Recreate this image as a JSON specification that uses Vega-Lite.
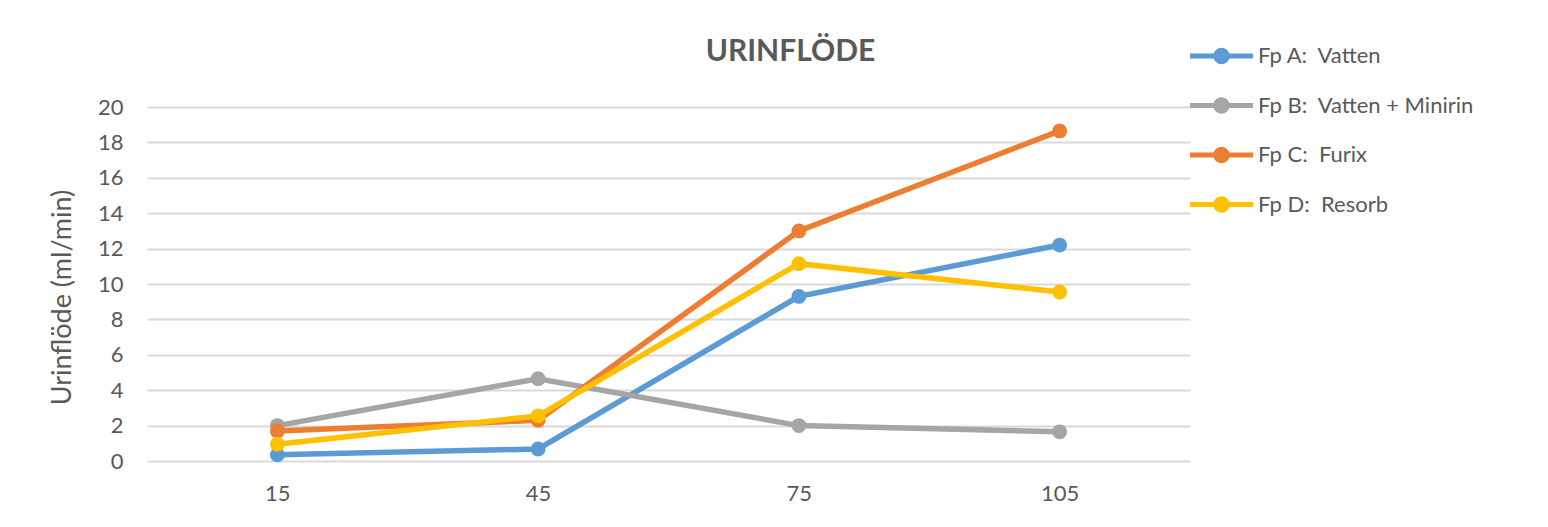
{
  "$schema": "https://vega.github.io/schema/vega-lite/v6.json",
  "autosize": {"type": "none"},
  "padding": {"left": 147, "top": 107, "right": 358, "bottom": 66},
  "width": 1043,
  "height": 354,
  "background": "white",
  "title": {
    "text": "URINFLÖDE",
    "font": "Lato",
    "fontSize": 30,
    "fontWeight": "bold",
    "color": "#595959",
    "anchor": "middle",
    "baseline": "alphabetic",
    "offset": 47,
    "dx": 122,
    "dy": 97
  },
  "data": {
    "values": [
      {"serie": "Fp A:\u00a0 Vatten", "t": 15, "v": 0.35},
      {"serie": "Fp A:\u00a0 Vatten", "t": 45, "v": 0.68},
      {"serie": "Fp A:\u00a0 Vatten", "t": 75, "v": 9.3},
      {"serie": "Fp A:\u00a0 Vatten", "t": 105, "v": 12.2},
      {"serie": "Fp B:\u00a0 Vatten + Minirin", "t": 15, "v": 2.0},
      {"serie": "Fp B:\u00a0 Vatten + Minirin", "t": 45, "v": 4.65},
      {"serie": "Fp B:\u00a0 Vatten + Minirin", "t": 75, "v": 2.0},
      {"serie": "Fp B:\u00a0 Vatten + Minirin", "t": 105, "v": 1.65},
      {"serie": "Fp C:\u00a0 Furix", "t": 15, "v": 1.7},
      {"serie": "Fp C:\u00a0 Furix", "t": 45, "v": 2.3},
      {"serie": "Fp C:\u00a0 Furix", "t": 75, "v": 13.0},
      {"serie": "Fp C:\u00a0 Furix", "t": 105, "v": 18.65},
      {"serie": "Fp D:\u00a0 Resorb", "t": 15, "v": 0.95},
      {"serie": "Fp D:\u00a0 Resorb", "t": 45, "v": 2.55},
      {"serie": "Fp D:\u00a0 Resorb", "t": 75, "v": 11.15},
      {"serie": "Fp D:\u00a0 Resorb", "t": 105, "v": 9.55}
    ]
  },
  "encoding": {
    "x": {
      "field": "t",
      "type": "ordinal",
      "sort": [15, 45, 75, 105],
      "scale": {"type": "point", "padding": 0.5},
      "axis": {
        "title": null,
        "labelAngle": 0,
        "domain": false,
        "ticks": false,
        "grid": false,
        "labelFont": "Lato",
        "labelFontSize": 22,
        "labelColor": "#595959",
        "labelPadding": 22
      }
    },
    "y": {
      "field": "v",
      "type": "quantitative",
      "scale": {"domain": [0, 20], "nice": false},
      "axis": {
        "title": "Urinflöde (ml/min)",
        "values": [0, 2, 4, 6, 8, 10, 12, 14, 16, 18, 20],
        "domain": false,
        "ticks": false,
        "grid": true,
        "gridColor": "#d9d9d9",
        "gridWidth": 2,
        "labelFont": "Lato",
        "labelFontSize": 22,
        "labelColor": "#595959",
        "labelPadding": 24,
        "titleFont": "Lato",
        "titleFontSize": 27,
        "titleFontWeight": "normal",
        "titleColor": "#595959",
        "titleAngle": -90,
        "titleAlign": "center",
        "titleBaseline": "middle",
        "titleX": -85,
        "titleY": 190
      }
    },
    "color": {
      "field": "serie",
      "type": "nominal",
      "scale": {
        "domain": ["Fp A:\u00a0 Vatten", "Fp B:\u00a0 Vatten + Minirin", "Fp C:\u00a0 Furix", "Fp D:\u00a0 Resorb"],
        "range": ["#5B9BD5", "#A5A5A5", "#ED7D31", "#FFC000"]
      },
      "legend": {
        "title": null,
        "orient": "none",
        "legendX": 1059.5,
        "legendY": -66,
        "padding": 0,
        "symbolType": "M-2.1,-0.167H2.1V0.167H-2.1Z M0.55,0A0.55,0.55 0 1,1 -0.55,0A0.55,0.55 0 1,1 0.55,0Z",
        "symbolSize": 900,
        "symbolStrokeWidth": 0,
        "symbolOpacity": 1,
        "symbolFillColor": "#888888",
        "rowPadding": 23.5,
        "labelOffset": 21.5,
        "labelFont": "Lato",
        "labelFontSize": 22,
        "labelColor": "#595959",
        "labelLimit": 400,
        "encode": {
          "symbols": {
            "update": {
              "fill": {"scale": "color", "field": "value"},
              "strokeWidth": {"value": 0},
              "opacity": {"value": 1}
            }
          }
        }
      }
    }
  },
  "layer": [
    {
      "mark": {"type": "line", "strokeWidth": 5.5}
    },
    {
      "mark": {"type": "point", "filled": true, "size": 220, "opacity": 1}
    }
  ],
  "config": {"view": {"stroke": null}}
}
